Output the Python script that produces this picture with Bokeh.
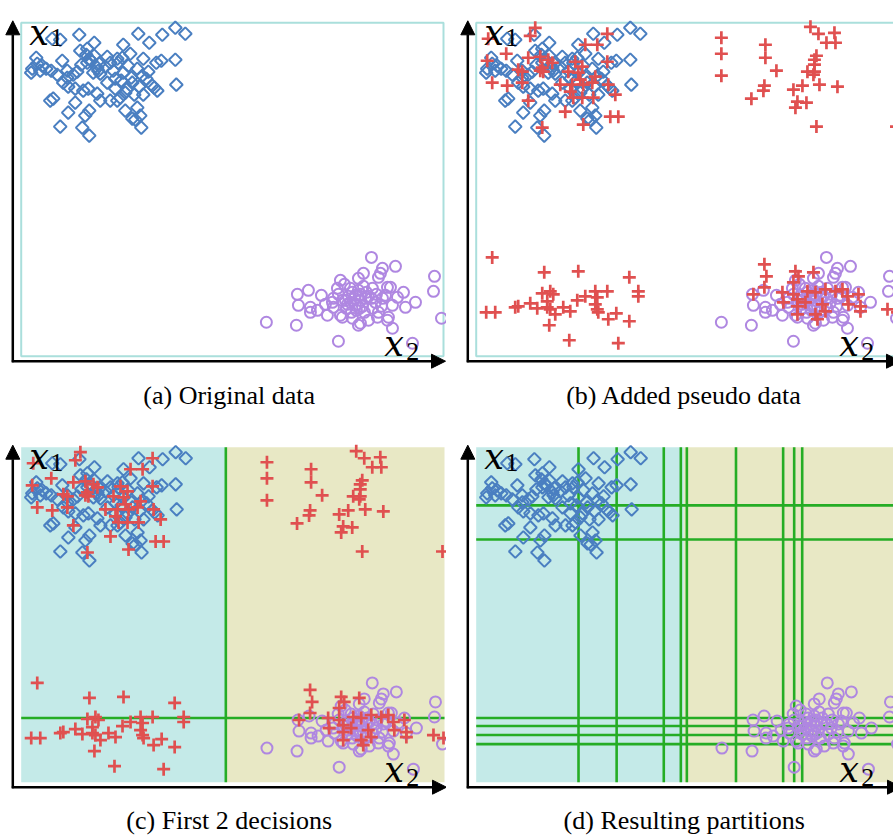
import numpy as np
from bokeh.plotting import figure
from bokeh.layouts import gridplot
from bokeh.models import Range1d, Arrow, NormalHead, Label
from bokeh.embed import file_html
from bokeh.resources import INLINE

# ---- data (box spans 0..W horizontally, 0..H vertically) ----
W, H = 422, 334

blue_x = [31, 39, 58, 73, 66, 117, 128, 141, 154, 164, 102, 109, 15, 11, 16, 21, 10, 30, 41, 46,
          42, 56, 65, 68, 73, 76, 78, 77, 66, 89, 96, 101, 107, 122, 135, 140, 154, 92, 102, 29,
          32, 47, 54, 62, 67, 76, 79, 86, 94, 99, 104, 111, 121, 131, 133, 125, 122, 136, 155, 89,
          96, 47, 64, 68, 39, 61, 68, 104, 111, 116, 119, 114, 120, 110, 79, 72, 116, 94, 54, 46,
          59, 97, 19, 70, 84, 60, 86, 100, 106, 118, 127, 25, 36, 52, 113]
blue_y = [318, 317, 322, 314, 308, 323, 314, 322, 329, 323, 312, 303, 299, 288, 293, 291, 284, 286, 296, 286,
          274, 285, 302, 298, 301, 289, 293, 286, 294, 294, 298, 299, 291, 298, 294, 296, 297, 286, 284, 256,
          258, 270, 254, 266, 268, 263, 256, 274, 278, 259, 264, 274, 281, 271, 269, 278, 262, 266, 272, 256,
          256, 244, 241, 246, 230, 229, 221, 246, 238, 249, 241, 237, 229, 279, 283, 284, 288, 268, 268, 279,
          306, 294, 286, 296, 290, 292, 300, 276, 268, 270, 285, 288, 282, 282, 262]

purple_pts = [(245, 34), (275, 31), (317, 15), (350, 99), (374, 90), (413, 80), (412, 65), (420, 38), (391, 13), (394, 54),
              (384, 49), (276, 62), (287, 66), (300, 61), (277, 51), (289, 49), (289, 44), (296, 46), (306, 41), (319, 76),
              (316, 68), (312, 58), (312, 49), (321, 39), (361, 88), (357, 79), (342, 83), (337, 78), (366, 69), (382, 64),
              (376, 59), (371, 51), (357, 44), (367, 39), (339, 33), (347, 36), (331, 38), (334, 61), (344, 58), (329, 68),
              (354, 54), (361, 58), (351, 68), (364, 61), (337, 31), (356, 39), (366, 36), (371, 28), (319, 41), (359, 83),
              (369, 69), (324, 56), (329, 54), (334, 51), (339, 56), (327, 60), (331, 64), (337, 66), (341, 50), (347, 60),
              (325, 48), (335, 46), (343, 44), (351, 48), (321, 56), (333, 58), (339, 62), (317, 62), (323, 72),
              (345, 64), (350, 58), (326, 52), (338, 48), (355, 62), (342, 70), (360, 50), (330, 44), (311, 54), (304, 52)]

red_pts = [(12, 318), (59, 329), (54, 321), (30, 303), (11, 296), (16, 274), (31, 271), (42, 287), (46, 285), (46, 274),
           (52, 299), (64, 300), (66, 289), (67, 285), (72, 297), (76, 294), (52, 256), (66, 229), (89, 245), (107, 232),
           (109, 312), (121, 312), (131, 323), (84, 272), (92, 285), (96, 272), (97, 259), (99, 295), (102, 284), (106, 290),
           (107, 272), (106, 259), (116, 274), (117, 259), (119, 280), (131, 295), (132, 272), (139, 262), (134, 240), (142, 240),
           (94, 265), (64, 286), (104, 277),
           (245, 319), (245, 303), (245, 281), (289, 312), (289, 299), (300, 286), (288, 271), (287, 266), (275, 258), (334, 330),
           (342, 323), (358, 324), (350, 314), (359, 314), (340, 301), (338, 297), (338, 292), (331, 285), (338, 285), (337, 282),
           (317, 267), (326, 271), (343, 272), (361, 270), (321, 255), (330, 254), (319, 249), (340, 230), (420, 230),
           (16, 99), (68, 84), (102, 85), (153, 79), (162, 65), (162, 60), (10, 44), (19, 44), (39, 49), (42, 50),
           (54, 53), (61, 48), (66, 63), (74, 65), (77, 62), (71, 55), (71, 49), (74, 47), (79, 42), (87, 49),
           (94, 45), (101, 56), (109, 60), (119, 65), (121, 59), (119, 52), (121, 47), (122, 44), (131, 65), (132, 37),
           (140, 43), (153, 35), (73, 31), (93, 16), (142, 13),
           (288, 92), (290, 80), (288, 69), (277, 62), (319, 85), (322, 80), (337, 84), (317, 74), (306, 64), (307, 54),
           (317, 62), (321, 57), (321, 50), (321, 42), (331, 65), (339, 64), (339, 42), (341, 37), (349, 67), (349, 45),
           (359, 65), (366, 67), (371, 60), (372, 52), (382, 62), (384, 50), (384, 45), (411, 47), (421, 44), (329, 54),
           (346, 52)]

purple_x = [p[0] for p in purple_pts]
purple_y = [p[1] for p in purple_pts]
red_x = [p[0] for p in red_pts]
red_y = [p[1] for p in red_pts]

first_split_x = 204
first_split_y = 64
more_splits_x = [102, 140, 187, 210, 259, 306, 317, 325]
more_splits_y = [276, 242, 56, 47, 38]
final_region_boundary = 207

captions = ["(a) Original data", "(b) Added pseudo data",
            "(c) First 2 decisions", "(d) Resulting partitions"]

# ---- styles ----
BLUE = "#4a7fc1"
PURPLE = "#af87e1"
RED = "#e05050"
CYAN_BG = "#c4eae8"
YELLOW_BG = "#e8e8c5"
OUTLINE = "#aadfdc"
GREEN = "#25ad25"
SERIF = "'Liberation Serif', 'Times New Roman', serif"
MATH = "'DejaVu Serif', serif"


def make_panel(fw, fh, bl, bt, bw, bh):
    sx = W / bw
    sy = H / bh
    p = figure(width=fw, height=fh,
               x_range=Range1d(-bl * sx, (fw - bl) * sx),
               y_range=Range1d(H - (fh - bt) * sy, H + bt * sy),
               output_backend="svg", toolbar_location=None, tools="",
               min_border=0, x_axis_location=None, y_axis_location=None,
               outline_line_color=None, background_fill_color="white",
               border_fill_color="white")
    p.xgrid.visible = False
    p.ygrid.visible = False
    return p, sx, sy


def add_points(p, red=True, blue=True, purple=True):
    if blue:
        p.scatter(blue_x, blue_y, marker="square", size=9, angle=np.pi / 4,
                  fill_color=None, line_color=BLUE, line_width=2)
    if purple:
        p.scatter(purple_x, purple_y, marker="circle", size=11,
                  fill_color=None, line_color=PURPLE, line_width=2)
    if red:
        p.scatter(red_x, red_y, marker="cross", size=13,
                  line_color=RED, line_width=2.7)


def add_decor(p, sx, sy, caption):
    ax_x = -8.4 * sx
    ax_y = -5 * sy
    head = dict(size=14, fill_color="black", line_color="black", line_width=1)
    p.add_layout(Arrow(end=NormalHead(**head), x_start=ax_x, y_start=ax_y - 1 * sy,
                       x_end=ax_x, y_end=H + 2 * sy, line_color="black", line_width=2.5))
    p.add_layout(Arrow(end=NormalHead(**head), x_start=ax_x - 1 * sx, y_start=ax_y,
                       x_end=W + 2 * sx, y_end=ax_y, line_color="black", line_width=2.5))
    lab = dict(text_color="black", text_align="left", text_baseline="alphabetic")
    p.add_layout(Label(x=8 * sx, y=H - 10 * sy, text="x", text_font=MATH,
                       text_font_style="italic", text_font_size="35px", **lab))
    p.add_layout(Label(x=29 * sx, y=H - 15 * sy, text="1", text_font=SERIF,
                       text_font_size="26px", **lab))
    p.add_layout(Label(x=363 * sx, y=12 * sy, text="x", text_font=MATH,
                       text_font_style="italic", text_font_size="35px", **lab))
    p.add_layout(Label(x=385 * sx, y=5 * sy, text="2", text_font=SERIF,
                       text_font_size="26px", **lab))
    p.add_layout(Label(x=208 * sx, y=H - 373 * sy, text=caption, text_font=SERIF,
                       text_font_size="26px", text_align="center", text_baseline="middle",
                       text_color="black"))


# (a)
pa, sxa, sya = make_panel(446, 419, 20.7, 22.3, 422.3, 333.4)
pa.quad(left=[0], right=[W], bottom=[0], top=[H], fill_color=None,
        line_color=OUTLINE, line_width=2)
add_points(pa, red=False)
add_decor(pa, sxa, sya, captions[0])

# (b)
pb, sxb, syb = make_panel(447, 419, 29.7, 22.3, 422.3, 333.4)
pb.quad(left=[0], right=[W], bottom=[0], top=[H], fill_color=None,
        line_color=OUTLINE, line_width=2)
add_points(pb)
add_decor(pb, sxb, syb, captions[1])

# (c)
pc, sxc, syc = make_panel(446, 419, 20.7, 27.7, 423.3, 335)
pc.quad(left=[0, first_split_x], right=[first_split_x, W], bottom=[0, 0], top=[H, H],
        fill_color=[CYAN_BG, YELLOW_BG], line_color=None)
pc.segment(x0=[first_split_x], y0=[0], x1=[first_split_x], y1=[H], line_color=GREEN, line_width=2.6)
pc.segment(x0=[0], y0=[first_split_y], x1=[W], y1=[first_split_y], line_color=GREEN, line_width=2.6)
add_points(pc)
add_decor(pc, sxc, syc, captions[2])

# (d)
pd_, sxd, syd = make_panel(447, 419, 29.7, 27.7, 423.3, 335)
pd_.quad(left=[0, final_region_boundary], right=[final_region_boundary, W], bottom=[0, 0], top=[H, H],
         fill_color=[CYAN_BG, YELLOW_BG], line_color=None)
vx = [first_split_x] + more_splits_x
hy = [first_split_y] + more_splits_y
pd_.segment(x0=vx, y0=[0] * len(vx), x1=vx, y1=[H] * len(vx), line_color=GREEN, line_width=2.6)
pd_.segment(x0=[0] * len(hy), y0=hy, x1=[W] * len(hy), y1=hy, line_color=GREEN, line_width=2.6)
add_points(pd_, red=False)
add_decor(pd_, sxd, syd, captions[3])

grid = gridplot([[pa, pb], [pc, pd_]], toolbar_location=None)

open("out.html", "w").write(file_html(grid, INLINE))
